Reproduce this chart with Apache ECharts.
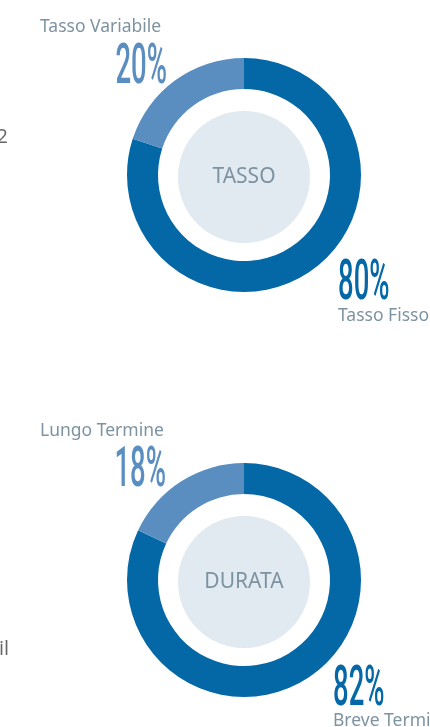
<!DOCTYPE html>
<html>
<head>
<meta charset="utf-8">
<script src="https://cdn.jsdelivr.net/npm/echarts@6/dist/echarts.min.js"></script>
<style>
  html, body { margin: 0; padding: 0; background: #fff; }
  #chart { width: 430px; height: 727px; }
</style>
</head>
<body>
<div id="chart"></div>
<script>
// data
const tassoTitle = 'TASSO'
const tassoNames = ['Tasso Fisso', 'Tasso Variabile']
const tassoValues = [80, 20]

const durataTitle = 'DURATA'
const durataNames = ['Breve Termine', 'Lungo Termine']
const durataValues = [82, 18]

const colors = {
  main: '#0468a7',
  light: '#5b8ec0',
  hole: '#e1e9f1',
  text: '#7d93a1',
  body: '#666666'
}

const chart = echarts.init(document.getElementById('chart'))

const donut = (names, values, center) => ({
  type: 'pie',
  center: center,
  radius: [86, 117],
  startAngle: 90,
  clockwise: true,
  silent: true,
  label: { show: false },
  labelLine: { show: false },
  data: names.map((n, i) => ({
    name: n,
    value: values[i],
    itemStyle: { color: i === 0 ? colors.main : colors.light }
  }))
})

const hole = (title, center) => ({
  type: 'pie',
  center: center,
  radius: [0, 66],
  silent: true,
  itemStyle: { color: colors.hole },
  label: {
    show: true,
    position: 'center',
    formatter: title,
    color: colors.text,
    fontSize: 21,
    fontFamily: 'Noto Sans'
  },
  labelLine: { show: false },
  data: [{ name: title, value: 1 }]
})

// condensed look for the big percentages
const pctText = (value, x, y, align) => ({
  type: 'text',
  x: x,
  y: y,
  scaleX: 0.5,
  style: {
    text: value + '%',
    fontFamily: 'Roboto',
    fontWeight: 500,
    fontSize: 55,
    fill: align === 'right' ? colors.light : colors.main,
    textAlign: align,
    textVerticalAlign: 'middle'
  }
})

const nameText = (name, x, y) => ({
  type: 'text',
  x: x,
  y: y,
  style: {
    text: name,
    fontFamily: 'Noto Sans',
    fontSize: 17.5,
    fill: colors.text,
    textAlign: 'left',
    textVerticalAlign: 'middle'
  }
})

const option = {
  backgroundColor: '#fff',
  animation: false,
  series: [
    donut(tassoNames, tassoValues, [244, 175]),
    hole(tassoTitle, [244, 177]),
    donut(durataNames, durataValues, [244, 580]),
    hole(durataTitle, [244, 582])
  ],
  graphic: [
    nameText(tassoNames[1], 40, 27),
    pctText(tassoValues[1], 167, 69, 'right'),
    pctText(tassoValues[0], 338, 285, 'left'),
    nameText(tassoNames[0], 338, 316),
    nameText(durataNames[1], 40, 431),
    pctText(durataValues[1], 166, 472, 'right'),
    pctText(durataValues[0], 333, 691, 'left'),
    nameText(durataNames[0], 333, 721),
    // clipped paragraph text at the left edge
    { type: 'text', x: 8, y: 137, style: { text: '2', fontFamily: 'Open Sans', fontSize: 20, fill: colors.body, textAlign: 'right', textVerticalAlign: 'middle' } },
    { type: 'text', x: 9, y: 649, style: { text: 'il', fontFamily: 'Open Sans', fontSize: 20, fill: colors.body, textAlign: 'right', textVerticalAlign: 'middle' } }
  ]
}

chart.setOption(option)
</script>
</body>
</html>
